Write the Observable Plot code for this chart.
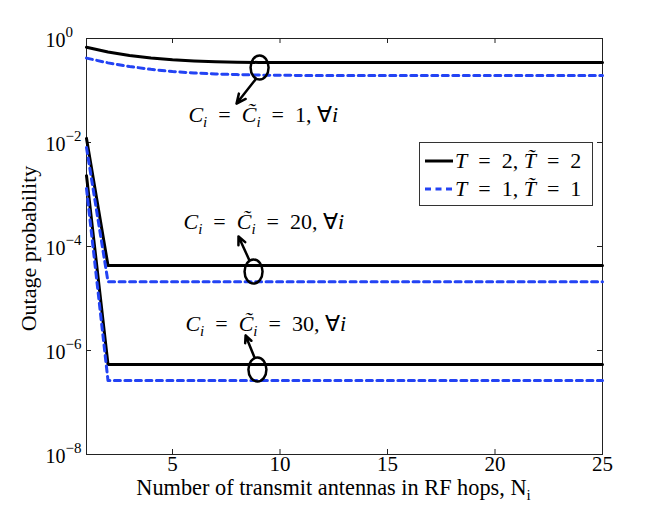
<!DOCTYPE html>
<html>
<head>
<meta charset="utf-8">
<script src="https://cdn.jsdelivr.net/npm/d3@7"></script>
<script src="https://cdn.jsdelivr.net/npm/@observablehq/plot@0.6"></script>
<style>
  body { margin: 0; background: #fff; }
  #wrap { position: relative; width: 664px; height: 512px; }
  #legend { position: absolute; left: 419px; top: 142px; width: 172px; height: 62px;
    border: 1px solid #333; background: #fff; font-family: "Liberation Serif", serif; font-size: 22px; color: #000; }
  #legend .row { position: absolute; left: 5px; height: 26px; display: flex; align-items: center; white-space: pre; }
  #legend svg { margin-right: 2px; }
</style>
</head>
<body>
<div id="wrap"></div>
<script>
// ---- data ----
const antennas = [1,2,3,4,5,6,7,8,9,10,11,12,13,14,15,16,17,18,19,20,21,22,23,24,25];
const c1_T2  = [0.68,0.55,0.47,0.42,0.39,0.37,0.357,0.35,0.347,0.346,0.345,0.345,0.345,0.345,0.345,0.345,0.345,0.345,0.345,0.345,0.345,0.345,0.345,0.345,0.345];
const c1_T1  = [0.42,0.34,0.29,0.255,0.232,0.217,0.208,0.202,0.198,0.196,0.195,0.195,0.195,0.195,0.195,0.195,0.195,0.195,0.195,0.195,0.195,0.195,0.195,0.195,0.195];
const c20_T2 = [0.012,4.3e-5,4.3e-5,4.3e-5,4.3e-5,4.3e-5,4.3e-5,4.3e-5,4.3e-5,4.3e-5,4.3e-5,4.3e-5,4.3e-5,4.3e-5,4.3e-5,4.3e-5,4.3e-5,4.3e-5,4.3e-5,4.3e-5,4.3e-5,4.3e-5,4.3e-5,4.3e-5,4.3e-5];
const c20_T1 = [0.008,2.1e-5,2.1e-5,2.1e-5,2.1e-5,2.1e-5,2.1e-5,2.1e-5,2.1e-5,2.1e-5,2.1e-5,2.1e-5,2.1e-5,2.1e-5,2.1e-5,2.1e-5,2.1e-5,2.1e-5,2.1e-5,2.1e-5,2.1e-5,2.1e-5,2.1e-5,2.1e-5,2.1e-5];
const c30_T2 = [2.3e-3,5.4e-7,5.4e-7,5.4e-7,5.4e-7,5.4e-7,5.4e-7,5.4e-7,5.4e-7,5.4e-7,5.4e-7,5.4e-7,5.4e-7,5.4e-7,5.4e-7,5.4e-7,5.4e-7,5.4e-7,5.4e-7,5.4e-7,5.4e-7,5.4e-7,5.4e-7,5.4e-7,5.4e-7];
const c30_T1 = [1.3e-3,2.65e-7,2.65e-7,2.65e-7,2.65e-7,2.65e-7,2.65e-7,2.65e-7,2.65e-7,2.65e-7,2.65e-7,2.65e-7,2.65e-7,2.65e-7,2.65e-7,2.65e-7,2.65e-7,2.65e-7,2.65e-7,2.65e-7,2.65e-7,2.65e-7,2.65e-7,2.65e-7,2.65e-7];

const xTicks = [5, 10, 15, 20, 25];
const yTicks = [1, 1e-2, 1e-4, 1e-6, 1e-8];
const seriesT = ["T2", "T1"];
const legendLabels = { T2: ["T", " = 2, ", "T̃", " = 2"], T1: ["T", " = 1, ", "T̃", " = 1"] };
const capacities = ["1", "20", "30"];
// annotation anchors (data coordinates): ellipse centre, arrow start/end, label position
const annEllipseN = [9.05, 8.77, 8.95];
const annEllipseP = [0.277, 3.3e-5, 4.3e-7];
const annArrowN1 = [8.86, 8.58, 8.81], annArrowP1 = [0.163, 5.4e-5, 7.4e-7];
const annArrowN2 = [7.98, 8.07, 8.40], annArrowP2 = [0.056, 1.56e-4, 1.95e-6];
const annTextN = [5.74, 5.51, 5.6], annTextP = [0.0345, 3.0e-4, 3.3e-6];

// ---- build tables ----
const table = [];
const add = (arr, T, C) => arr.forEach((p, i) => table.push({N: antennas[i], p, T, C}));
add(c1_T2, "T2", "1"); add(c20_T2, "T2", "20"); add(c30_T2, "T2", "30");
add(c1_T1, "T1", "1"); add(c20_T1, "T1", "20"); add(c30_T1, "T1", "30");
const ann = capacities.map((c, i) => ({c, en: annEllipseN[i], ep: annEllipseP[i],
  n1: annArrowN1[i], p1: annArrowP1[i], n2: annArrowN2[i], p2: annArrowP2[i], tn: annTextN[i], tp: annTextP[i]}));

const blue = "#2343f4";
const ellipseSymbol = {
  draw(ctx, size) {
    const rx = 9, ry = 12, k = 0.5523;
    ctx.moveTo(rx, 0);
    ctx.bezierCurveTo(rx, ry * k, rx * k, ry, 0, ry);
    ctx.bezierCurveTo(-rx * k, ry, -rx, ry * k, -rx, 0);
    ctx.bezierCurveTo(-rx, -ry * k, -rx * k, -ry, 0, -ry);
    ctx.bezierCurveTo(rx * k, -ry, rx, -ry * k, rx, 0);
    ctx.closePath();
  }
};

const chart = Plot.plot({
  width: 664, height: 512,
  marginLeft: 86, marginRight: 62, marginTop: 38, marginBottom: 58,
  style: { fontFamily: "Liberation Serif, serif", fontSize: "21px", color: "#000", background: "#fff" },
  x: { domain: [1, 25] },
  y: { type: "log", domain: [1e-8, 1] },
  marks: [
    Plot.frame({ stroke: "#222", strokeWidth: 1 }),
    Plot.tickX(xTicks, { x: d => d, insetTop: 411, stroke: "#222" }),
    Plot.tickX(xTicks, { x: d => d, insetBottom: 411, stroke: "#222" }),
    Plot.tickY(yTicks, { y: d => d, insetRight: 511, stroke: "#222" }),
    Plot.tickY(yTicks, { y: d => d, insetLeft: 511, stroke: "#222" }),
    Plot.axisX(xTicks, { tickSize: 0, tickPadding: 2, label: null, fontSize: 21 }),
    Plot.axisY(yTicks, { tickSize: 0, tickPadding: 41, textAnchor: "start", dy: 2, label: null, fontSize: 20,
      tickFormat: d => "10^" + Math.round(Math.log10(d)) }),
    Plot.line(table.filter(d => d.T === "T2"), { x: "N", y: "p", z: "C", stroke: "#000", strokeWidth: 3 }),
    Plot.line(table.filter(d => d.T === "T1"), { x: "N", y: "p", z: "C", stroke: blue, strokeWidth: 3, strokeDasharray: "6,4.5" }),
    Plot.dot(ann, { x: "en", y: "ep", symbol: ellipseSymbol, stroke: "#000", strokeWidth: 2.5, fill: "none" }),
    Plot.arrow(ann, { x1: "n1", y1: "p1", x2: "n2", y2: "p2", stroke: "#000", strokeWidth: 2.5, headLength: 9, headAngle: 50 }),
    Plot.text(ann, { x: "tn", y: "tp", text: d => "ANN" + d.c, textAnchor: "start", fontSize: 22 }),
    Plot.text([0], { frameAnchor: "bottom", dy: 40, dx: -11, text: () => "XLABEL", fontSize: 22.3 }),
    Plot.text([0], { frameAnchor: "left", textAnchor: "middle", rotate: -90, dx: -58, dy: 2, text: () => "YLABEL", fontSize: 22 })
  ]
});

document.getElementById("wrap").appendChild(chart);

// ---- rich text (sub/superscripts, italics) ----
function setMath(el, segs) {
  el.textContent = "";
  let shift = 0;
  for (const s of segs) {
    const ts = document.createElementNS("http://www.w3.org/2000/svg", "tspan");
    ts.textContent = s.t;
    const target = s.sub ? 5 : s.sup ? -10 : 0;
    if (target !== shift) { ts.setAttribute("dy", target - shift); shift = target; }
    if (s.sub || s.sup) ts.setAttribute("font-size", s.size || 15);
    if (s.i) ts.setAttribute("font-style", "italic");
    el.appendChild(ts);
  }
}
const SP = "\u2002";
chart.querySelectorAll("text").forEach(el => {
  const t = el.textContent;
  if (t.startsWith("10^")) {
    setMath(el, [{t: "10"}, {t: t.slice(3).replace("-", "−"), sup: true, size: 15}]);
  } else if (t.startsWith("ANN")) {
    const c = t.slice(3);
    setMath(el, [{t: "C", i: true}, {t: "i", i: true, sub: true}, {t: SP + "=" + SP}, {t: "C\u0303", i: true},
      {t: "i", i: true, sub: true}, {t: SP + "=" + SP + c + ", ∀"}, {t: "i", i: true}]);
  } else if (t === "XLABEL") {
    setMath(el, [{t: "Number of transmit antennas in RF hops, N"}, {t: "i", sub: true, size: 15}]);
  } else if (t === "YLABEL") {
    el.textContent = "Outage probability";
  }
});

// ---- legend ----
const legend = document.createElement("div");
legend.id = "legend";
seriesT.forEach((k, i) => {
  const row = document.createElement("div");
  row.className = "row";
  row.style.top = (5 + i * 28) + "px";
  const dash = k === "T1" ? 'stroke-dasharray="6,4.5"' : "";
  const col = k === "T1" ? blue : "#000";
  const L = legendLabels[k];
  row.innerHTML = `<svg width="28" height="10"><line x1="0" y1="5" x2="28" y2="5" stroke="${col}" stroke-width="3" ${dash}/></svg>` +
    `<span><i>${L[0]}</i>${L[1].replace(/ = /g, SP + "=" + SP)}<i>${L[2]}</i>${L[3].replace(/ = /g, SP + "=" + SP)}</span>`;
  legend.appendChild(row);
});
document.getElementById("wrap").appendChild(legend);
</script>
</body>
</html>
